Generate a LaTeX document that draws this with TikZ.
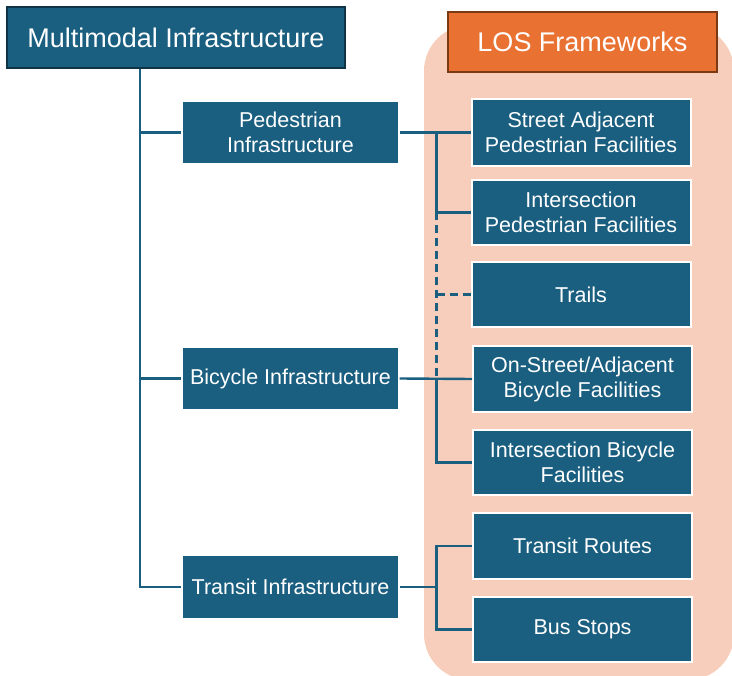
\documentclass[tikz,border=0pt]{standalone}
\usepackage{fontspec}
\setmainfont{Liberation Sans}
\usetikzlibrary{positioning}

\definecolor{teal}{HTML}{1A5E80}
\definecolor{tealdark}{HTML}{0E3446}
\definecolor{peach}{HTML}{F6CEBB}
\definecolor{losorange}{HTML}{E97132}
\definecolor{losbrown}{HTML}{7B3A12}

\begin{document}
\begin{tikzpicture}[
    x=1pt, y=-1pt,
    infra/.style={rectangle, fill=teal, draw=white, line width=1.2pt, text=white,
        align=center, font=\fontsize{21.5}{25}\selectfont, inner sep=0pt},
    los/.style={infra, line width=2pt, minimum width=219pt},
    link/.style={draw=teal, line width=2.4pt}
]
\useasboundingbox (0,0) rectangle (732,676);

% Frameworks panel
\fill[peach, rounded corners=46pt] (424,25) rectangle (734,680);

% Top level boxes
\node[infra, draw=tealdark, line width=1.8pt, minimum width=338pt, minimum height=61pt,
    font=\fontsize{27}{30}\selectfont] (main) at (176,37.5) {Multimodal Infrastructure};
\node[infra, fill=losorange, draw=losbrown, line width=1.8pt, minimum width=269pt, minimum height=60pt,
    font=\fontsize{27}{30}\selectfont] (frame) at (582.5,42) {LOS Frameworks};

% Infrastructure types
\node[infra, minimum width=217pt, minimum height=63pt] (ped) at (290.5,132.5) {Pedestrian\\Infrastructure};
\node[infra, minimum width=217pt, minimum height=63pt] (bike) at (290.5,378.5) {Bicycle Infrastructure};
\node[infra, minimum width=217pt, minimum height=64pt] (transit) at (290.5,587) {Transit Infrastructure};

% LOS frameworks
\node[los, minimum height=67pt] (streetped) at (581,132.5) {Street Adjacent\\Pedestrian Facilities};
\node[los, minimum height=65pt] (interped) at (581,212.5) {Intersection\\Pedestrian Facilities};
\node[los, minimum height=65pt] (trails) at (581,294.5) {Trails};
\node[los, minimum height=66pt] (streetbike) at (582.5,379) {On-Street/Adjacent\\Bicycle Facilities};
\node[los, minimum height=65pt] (interbike) at (582.5,462.5) {Intersection Bicycle\\Facilities};
\node[los, minimum height=66pt] (routes) at (582.5,546) {Transit Routes};
\node[los, minimum height=65pt] (stops) at (582.5,629.5) {Bus Stops};

\coordinate (spine) at (140,0);
\coordinate (branch) at (436.5,0);

% Tree from the main box
\draw[link] (main.south -| spine) |- (ped.west);
\draw[link] (main.south -| spine) |- (bike.west);
\draw[link] (main.south -| spine) |- (transit.west);

% Pedestrian
\draw[link] (ped.east) -- (streetped.west);
\draw[link] (ped.east -| branch) |- (interped.west);
\draw[link, dashed, dash pattern=on 8pt off 5pt] (interped.west -| branch) -- (bike.east -| branch);
\draw[link, dashed, dash pattern=on 8pt off 5pt] (trails.west -| branch) -- (trails.west);

% Bicycle
\draw[link] (bike.east) -- (streetbike.west);
\draw[link] (bike.east -| branch) |- (interbike.west);

% Transit
\draw[link] (transit.east) -- (transit.east -| branch);
\draw[link] (routes.west) -- (routes.west -| branch) -- (stops.west -| branch) -- (stops.west);
\end{tikzpicture}
\end{document}
